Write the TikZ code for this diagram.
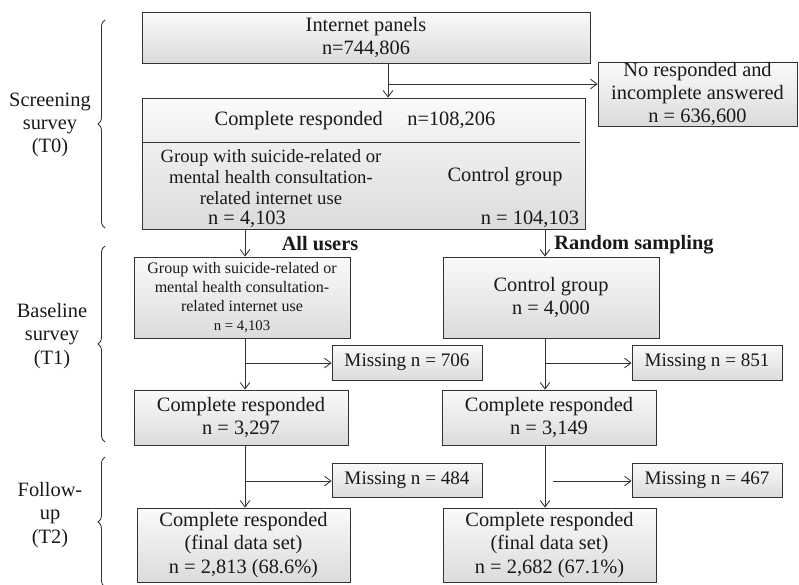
\documentclass[tikz,border=0pt]{standalone}
\usepackage{fontspec}
\setmainfont{Liberation Serif}
\usepackage{tikz}
\usetikzlibrary{arrows.meta}
\usetikzlibrary{decorations.pathreplacing}
\usetikzlibrary{positioning}
\newcommand{\mainsz}{\fontsize{14.5}{16.6}\selectfont}
\newcommand{\grpsz}{\fontsize{13.3}{15.2}\selectfont}
\newcommand{\misssz}{\fontsize{13.6}{15}\selectfont}
\newcommand{\smallsz}{\fontsize{11.4}{13.6}\selectfont}
\newcommand{\tinysz}{\fontsize{10.5}{12}\selectfont}
\tikzset{
	flowbox/.style={draw=black!80, line width=0.6pt, rectangle, inner sep=0pt,
		top color=black!2, bottom color=black!14, align=center, font=\mainsz},
	txt/.style={inner sep=0pt, align=center, font=\mainsz},
	arr/.style={draw=black!80, line width=0.6pt, -{Straight Barb[length=1.6mm, width=2.4mm]}},
	brc/.style={draw=black!80, line width=0.6pt, decorate, decoration={brace, amplitude=5pt}}
}

\begin{document}
\begin{tikzpicture}[x=0.025cm, y=-0.025cm, text=black!90]
	\useasboundingbox (0,0) rectangle (799,584);

	\node[flowbox, minimum width=448*0.025cm, minimum height=51*0.025cm] (panels) at (366,37.5) {Internet panels\\n=744,806};
	\node[flowbox, minimum width=199*0.025cm, minimum height=64*0.025cm] (noresp) at (697.5,94) {No responded and\\incomplete answered\\n = 636,600};
	\node[flowbox, minimum width=443*0.025cm, minimum height=131*0.025cm] (screen) at (363.5,163.5) {};
	\node[txt] (hdr) at (355,121) {Complete responded\hspace{1.2em}n=108,206};
	\node[txt, font=\grpsz] (grpA) at (271,177) {Group with suicide-related or\\mental health consultation-\\related internet use};
	\node[txt] (nA) at (247,219) {n = 4,103};
	\node[txt] (ctrlA) at (505,177) {Control group};
	\node[txt] (nB) at (530,219) {n = 104,103};
	\coordinate (dv) at (580,142);
	\draw[draw=black!80, line width=0.6pt] (screen.west |- dv) -- (dv);

	\node[flowbox, font=\smallsz, minimum width=216*0.025cm, minimum height=81*0.025cm] (base1) at (242,297.5) {Group with suicide-related or\\mental health consultation-\\related internet use\\{\tinysz n = 4,103}};
	\node[flowbox, minimum width=216*0.025cm, minimum height=81*0.025cm] (base2) at (551,297.5) {Control group\\n = 4,000};
	\node[txt, font=\mainsz\bfseries] (allu) at (320,244) {All users};
	\node[txt, font=\mainsz\bfseries] (rnd) at (634,245) {Random sampling};

	\node[flowbox, minimum width=214*0.025cm, minimum height=55*0.025cm] (comp1) at (241,417.5) {Complete responded\\n = 3,297};
	\node[flowbox, minimum width=214*0.025cm, minimum height=55*0.025cm] (comp2) at (549,417.5) {Complete responded\\n = 3,149};
	\node[flowbox, font=\misssz, minimum width=150*0.025cm, minimum height=35*0.025cm] (miss1) at (407,362.5) {Missing n = 706};
	\node[flowbox, font=\misssz, minimum width=150*0.025cm, minimum height=35*0.025cm] (miss2) at (707,362.5) {Missing n = 851};
	\node[flowbox, font=\misssz, minimum width=150*0.025cm, minimum height=34*0.025cm] (miss3) at (407,480) {Missing n = 484};
	\node[flowbox, font=\misssz, minimum width=150*0.025cm, minimum height=34*0.025cm] (miss4) at (707,480) {Missing n = 467};
	\node[flowbox, minimum width=213*0.025cm, minimum height=74*0.025cm] (fin1) at (243.5,545) {Complete responded\\(final data set)\\n = 2,813 (68.6\%)};
	\node[flowbox, minimum width=213*0.025cm, minimum height=74*0.025cm] (fin2) at (549.5,545) {Complete responded\\(final data set)\\n = 2,682 (67.1\%)};

	\coordinate (c0) at (388,84);
	\coordinate (bl1) at (245,363);
	\coordinate (bl2) at (245,481);
	\coordinate (br1) at (545,363);
	\coordinate (br2) at (553,481);

	\draw[arr] (panels.south -| c0) -- (screen.north -| c0);
	\draw[arr] (c0) -- (noresp.west |- c0);
	\draw[arr] (screen.south -| bl1) -- (base1.north -| bl1);
	\draw[arr] (screen.south -| br1) -- (base2.north -| br1);
	\draw[arr] (base1.south -| bl1) -- (comp1.north -| bl1);
	\draw[arr] (bl1) -- (miss1.west |- bl1);
	\draw[arr] (base2.south -| br1) -- (comp2.north -| br1);
	\draw[arr] (br1) -- (miss2.west |- br1);
	\draw[arr] (comp1.south -| bl1) -- (fin1.north -| bl1);
	\draw[arr] (bl2) -- (miss3.west |- bl2);
	\draw[arr] (comp2.south -| br1) -- (fin2.north -| br1);
	\draw[arr] (br2) -- (miss4.west |- br2);

	\draw[brc] (105,228) -- (105,20);
	\draw[brc] (105,442) -- (105,246);
	\draw[brc] (105,587) -- (105,457);
	\node[txt] (lab0) at (50,125) {Screening\\survey\\(T0)};
	\node[txt] (lab1) at (52,336) {Baseline\\survey\\(T1)};
	\node[txt] (lab2) at (50,515) {Follow-\\up\\(T2)};
\end{tikzpicture}
\end{document}
